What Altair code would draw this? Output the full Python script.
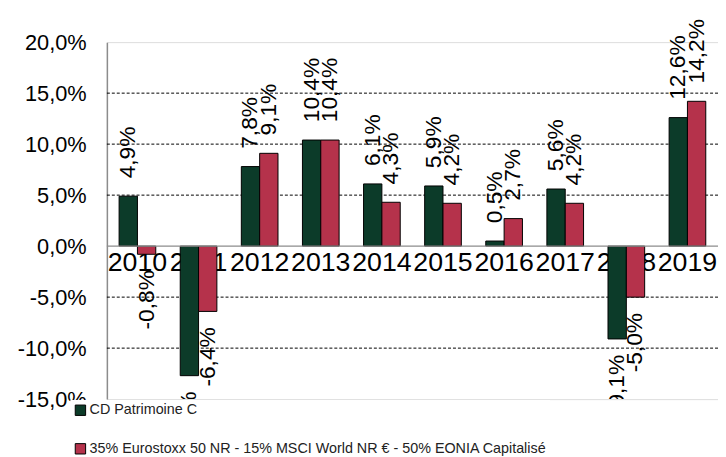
import altair as alt
import pandas as pd

years = ["2010", "2011", "2012", "2013", "2014", "2015", "2016", "2017", "2018", "2019"]
fund = [4.9, -12.7, 7.8, 10.4, 6.1, 5.9, 0.5, 5.6, -9.1, 12.6]
bench = [-0.8, -6.4, 9.1, 10.4, 4.3, 4.2, 2.7, 4.2, -5.0, 14.2]
series_names = ["CD Patrimoine C",
                "35% Eurostoxx 50 NR - 15% MSCI World NR € - 50% EONIA Capitalisé"]
colors = ["#0C3B29", "#B5324B"]
y_ticks = [-15, -10, -5, 0, 5, 10, 15, 20]
grid_values = [-10, -5, 5, 10, 15]

rows = []
for i, y in enumerate(years):
    rows.append({"year": y, "series": series_names[0], "value": fund[i]})
    rows.append({"year": y, "series": series_names[1], "value": bench[i]})
df = pd.DataFrame(rows)

FONT = "Liberation Sans"
fmt = "replace(replace(format(datum.value, '.1f'), '.', ','), '\u2212', '-') + '%'"

x_enc = alt.X("year:N", sort=years,
              scale=alt.Scale(paddingInner=0.4, paddingOuter=0.2),
              axis=alt.Axis(title=None, orient="bottom", offset=-155, labelAngle=0,
                            labelFontSize=27, labelColor="#000", labelFont=FONT,
                            labelPadding=4, ticks=False, domain=False,
                            labelOverlap=False, labelBound=False))
y_scale = alt.Scale(domain=[-15, 20], nice=False, zero=False)
xoff = alt.XOffset("series:N", sort=series_names)

base = alt.Chart(df)

grid = alt.Chart(pd.DataFrame({"v": grid_values})).mark_rule(
    color="#000", strokeWidth=1, strokeDash=[3, 2]
).encode(y=alt.Y("v:Q", scale=y_scale))

zero = alt.Chart(pd.DataFrame({"v": [0]})).mark_rule(
    color="#8c8c8c", strokeWidth=1.5
).encode(y=alt.Y("v:Q", scale=y_scale))

bars = base.mark_bar(stroke="#000", strokeWidth=1).encode(
    x=x_enc,
    xOffset=xoff,
    y=alt.Y("value:Q", scale=y_scale,
            axis=alt.Axis(title=None, values=y_ticks, labelExpr=fmt,
                          labelFontSize=22, labelColor="#000", labelFont=FONT,
                          labelPadding=21, ticks=False, grid=False,
                          domainColor="#8c8c8c", domainWidth=1.5)),
    y2=alt.datum(0),
    color=alt.Color("series:N", sort=series_names,
                    scale=alt.Scale(domain=series_names, range=colors),
                    legend=alt.Legend(title=None, orient="none", legendX=-37, legendY=362,
                                      direction="vertical", symbolType="square",
                                      symbolSize=110, symbolStrokeColor="#000",
                                      symbolStrokeWidth=1, labelFontSize=14.5,
                                      labelFont=FONT, labelColor="#222",
                                      labelLimit=700, rowPadding=23, labelOffset=2,
                                      fillColor="white", padding=3)),
)

pos_labels = base.transform_filter("datum.value >= 0").transform_calculate(
    label=fmt
).mark_text(
    angle=270, align="left", baseline="middle", dx=18, fontSize=23, font=FONT, color="#000"
).encode(
    x=alt.X("year:N", sort=years), xOffset=xoff,
    y=alt.Y("value:Q", scale=y_scale),
    text=alt.Text("label:N"),
)

neg_labels = base.transform_filter("datum.value < 0").transform_calculate(
    label=fmt
).mark_text(
    angle=270, align="right", baseline="middle", dx=-16, fontSize=23, font=FONT,
    color="#000", clip=True
).encode(
    x=alt.X("year:N", sort=years), xOffset=xoff,
    y=alt.Y("value:Q", scale=y_scale),
    text=alt.Text("label:N"),
)

chart = alt.layer(grid, bars, zero, pos_labels, neg_labels).properties(
    width=618, height=361,
    autosize=alt.AutoSizeParams(type="none"),
    padding={"left": 100, "top": 32, "right": 0, "bottom": 56},
).configure_view(stroke=None).configure(background="white")

chart.save("out.html", embed_options={"renderer": "svg", "actions": False})
